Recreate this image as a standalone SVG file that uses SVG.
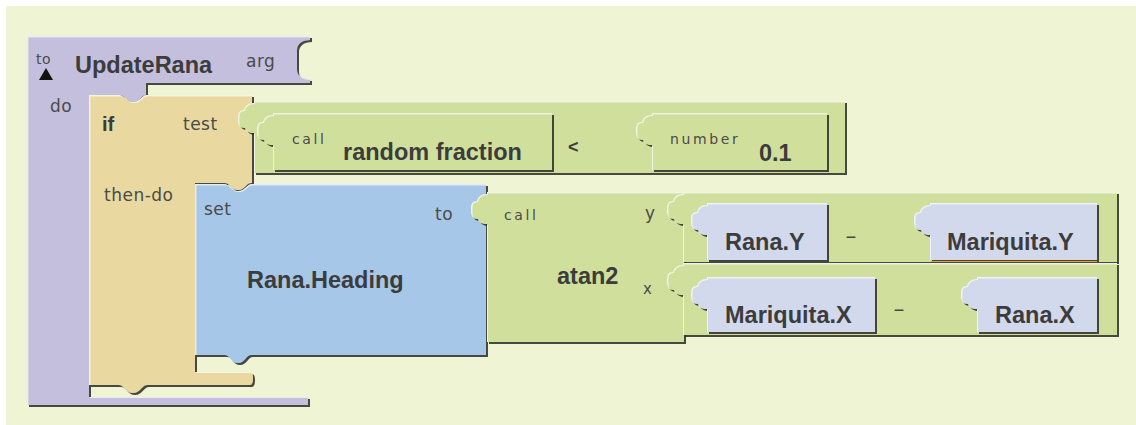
<svg xmlns="http://www.w3.org/2000/svg" width="1136" height="425" viewBox="0 0 1136 425">
<defs>
<filter id="bv" x="-5%" y="-5%" width="110%" height="115%">
<feOffset in="SourceAlpha" dx="1.8" dy="1.8" result="shO"/>
<feFlood flood-color="#2a2a24" flood-opacity="0.85"/>
<feComposite in2="shO" operator="in" result="sh"/>
<feOffset in="SourceAlpha" dx="1.4" dy="1.4" result="s1"/>
<feComposite in="SourceAlpha" in2="s1" operator="out" result="edge"/>
<feFlood flood-color="#ffffff" flood-opacity="0.65"/>
<feComposite in2="edge" operator="in" result="hi"/>
<feMerge><feMergeNode in="sh"/><feMergeNode in="SourceGraphic"/><feMergeNode in="hi"/></feMerge>
</filter>
<style>
.blk{filter:url(#bv)}
.pur{fill:#C3BFDD}
.tan{fill:#E9D9A0}
.blu{fill:#A7C7E9}
.grn{fill:#D1DF9D}
.val{fill:#D3D9EC}
.b{font-family:"Liberation Sans",Arial,sans-serif;font-weight:bold;font-size:23.5px;fill:#3c3c3c}
.l{font-family:"DejaVu Sans",Verdana,sans-serif;font-size:17px;fill:#4a4a4a;letter-spacing:0.5px}
.s{font-family:"DejaVu Sans",Verdana,sans-serif;font-size:14px;fill:#4a4a4a;letter-spacing:2.6px}
.m{font-family:"Liberation Sans",Arial,sans-serif;font-size:20px;fill:#4a4a4a}
</style>
</defs>
<rect x="0" y="0" width="1136" height="425" fill="#ffffff"/>
<rect x="6" y="6" width="1130" height="419" fill="#EEF4D4"/>

<g id="proc">
<path class="blk pur" d="M27,36 H310 V40 C302,40 297,44 297,50 V70 C297,76 302,79 310,79 V83 H146 V95 C141,95 140,102 133,102 C126,102 125,95 120,95 H89 V397 H308 V405 H27 Z"/>
<text x="36" y="64" class="l" style="font-size:14px">to</text>
<polygon points="39,80 53,80 46,68" fill="#111"/>
<text x="75" y="73" class="b">UpdateRana</text>
<text x="246" y="67" class="l">arg</text>
<text x="50" y="112" class="l">do</text>
</g>

<g id="if">
<path class="blk tan" d="M89,95 H119 C124,95 126,102 133,102 C140,102 142,95 147,95 H252 V183 H251 C246,183 245,190 238,190 C231,190 230,183 225,183 H195 V372 H250 Q253,372 253,378 Q253,385 250,385 H147 C142,385 140,393 133,393 C126,393 124,385 119,385 H89 Z"/>
<text x="102" y="131" class="b" style="font-size:20px">if</text>
<text x="183" y="130" class="l">test</text>
<text x="104" y="201" class="l">then-do</text>
</g>

<g id="set">
<path class="blk blu" d="M195,184 H224 C229,184 231,191 238,191 C245,191 247,184 252,184 H486 V355 H251 C246,355 245,363 238,363 C231,363 230,355 225,355 H195 Z"/>
<text x="204" y="215" class="l">set</text>
<text x="247" y="288" class="b">Rana.Heading</text>
<text x="435" y="220" class="l">to</text>
</g>

<g id="atan2">
<path class="blk grn" d="M487,192 H684 V342 H487 V224 C482,224 479,222 478,219 C472,219 471,215 471,210 C471,204 472,201 477,201 C478,197 481,194 487,194 Z"/>
<text x="504" y="220" class="s">call</text>
<text x="645" y="219" class="l">y</text>
<text x="557" y="284" class="b">atan2</text>
<text x="643" y="294" class="l" style="font-size:15px">x</text>
</g>

<g id="ydiff">
<path class="blk grn" d="M683,192 H1117 V262 H683 V224 C678,224 675,222 674,219 C668,219 667,215 667,210 C667,204 668,201 673,201 C674,197 677,194 683,194 Z"/>
<text x="845" y="243" class="m" textLength="12" lengthAdjust="spacingAndGlyphs">-</text>
</g>
<g id="ranaY">
<path class="blk val" d="M707,203 H827 V260 H707 V235 C702,235 699,233 698,230 C692,230 691,226 691,221 C691,215 692,212 697,212 C698,208 701,205 707,205 Z"/>
<text x="725" y="250" class="b">Rana.Y</text>
</g>
<g id="mariqY">
<path class="blk val" d="M930,203 H1097 V260 H930 V235 C925,235 922,233 921,230 C915,230 914,226 914,221 C914,215 915,212 920,212 C921,208 924,205 930,205 Z"/>
<line x1="931" y1="261.5" x2="1097" y2="261.5" stroke="#E8A030" stroke-width="1.2"/>
<text x="947" y="250" class="b">Mariquita.Y</text>
</g>

<g id="xdiff">
<path class="blk grn" d="M683,263 H1117 V335 H683 V295 C678,295 675,293 674,290 C668,290 667,286 667,281 C667,275 668,272 673,272 C674,268 677,265 683,265 Z"/>
<text x="893" y="316" class="m" textLength="12" lengthAdjust="spacingAndGlyphs">-</text>
</g>
<g id="mariqX">
<path class="blk val" d="M707,277 H875 V332 H707 V309 C702,309 699,307 698,304 C692,304 691,300 691,295 C691,289 692,286 697,286 C698,282 701,279 707,279 Z"/>
<text x="725" y="323" class="b">Mariquita.X</text>
</g>
<g id="ranaX">
<path class="blk val" d="M977,277 H1097 V332 H977 V309 C972,309 969,307 968,304 C962,304 961,300 961,295 C961,289 962,286 967,286 C968,282 971,279 977,279 Z"/>
<text x="995" y="323" class="b">Rana.X</text>
</g>

<g id="compare">
<path class="blk grn" d="M254,101 H845 V173 H254 V133 C249,133 246,131 245,128 C239,128 238,124 238,119 C238,113 239,110 244,110 C245,106 248,103 254,103 Z"/>
<text x="568" y="153" class="b" style="font-size:18px">&lt;</text>
</g>
<g id="rand">
<path class="blk grn" d="M273,113 H552 V170 H273 V145 C268,145 265,143 264,140 C258,140 257,136 257,131 C257,125 258,122 263,122 C264,118 267,115 273,115 Z"/>
<text x="292" y="144" class="s">call</text>
<text x="343" y="160" class="b">random fraction</text>
</g>
<g id="number">
<path class="blk grn" d="M652,113 H827 V170 H652 V145 C647,145 644,143 643,140 C637,140 636,136 636,131 C636,125 637,122 642,122 C643,118 646,115 652,115 Z"/>
<text x="670" y="144" class="s">number</text>
<text x="759" y="161" class="b">0.1</text>
</g>
<g id="connectors"></g>
</svg>
